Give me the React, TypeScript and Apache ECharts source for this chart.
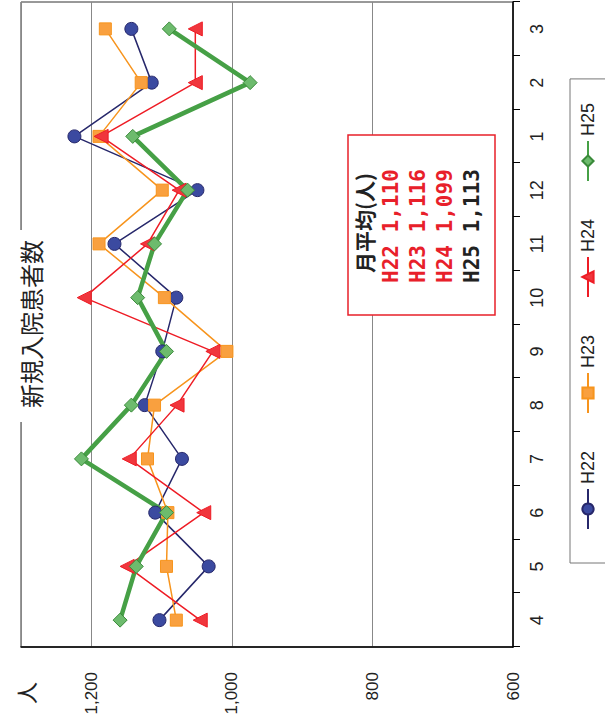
import React, { useEffect, useRef } from "react";
import * as echarts from "echarts";

const months = ["4", "5", "6", "7", "8", "9", "10", "11", "12", "1", "2", "3"];
const seriesNames = ["H22", "H23", "H24", "H25"];
const h22 = [1103, 1033, 1109, 1071, 1124, 1099, 1079, 1167, 1049, 1224, 1114, 1143];
const h23 = [1079, 1093, 1091, 1120, 1110, 1007, 1096, 1189, 1099, 1189, 1129, 1180];
const h24 = [1045, 1149, 1040, 1146, 1078, 1027, 1210, 1120, 1075, 1186, 1052, 1052];
const h25 = [1159, 1136, 1093, 1214, 1143, 1093, 1134, 1110, 1063, 1141, 974, 1089];
const averageLabels = ["H22 1,110", "H23 1,116", "H24 1,099", "H25 1,113"];
const averageTitle = "月平均(人)";
const chartTitle = "新規入院患者数";
const unitLabel = "人";

const W = 720;
const H = 605;

export default function App() {
  const ref = useRef<HTMLDivElement>(null);
  useEffect(() => {
    const chart = echarts.init(ref.current!, null, { renderer: "svg", width: W, height: H });
    const sans = "Liberation Sans, Arial, sans-serif";
    const cjk = "Noto Sans CJK JP, sans-serif";
    const mk = (name: string, data: number[], color: string, lineColor: string, symbol: string, size: number, width: number, border: string) => ({
      name,
      type: "line",
      data,
      symbol,
      symbolSize: size,
      showAllSymbol: true,
      lineStyle: { color: lineColor, width },
      itemStyle: { color, borderColor: border, borderWidth: 1 },
      z: 3,
    });
    const avgColors = ["#e8202a", "#e8202a", "#e8202a", "#222"];
    chart.setOption({
      animation: false,
      backgroundColor: "#fff",
      grid: { left: 73, right: 2, top: 21, bottom: 92, show: true, borderColor: "#333", borderWidth: 1 },
      legend: {
        data: seriesNames,
        left: 157,
        top: 570,
        padding: [9, 24, 12, 33],
        itemGap: 37,
        itemWidth: 40,
        itemHeight: 14,
        borderColor: "#777",
        borderWidth: 1,
        textStyle: { fontSize: 18, color: "#222", fontFamily: sans },
      },
      xAxis: {
        type: "category",
        data: months,
        boundaryGap: true,
        axisLine: { lineStyle: { color: "#000", width: 1.5 } },
        axisTick: { show: true, length: 7, lineStyle: { color: "#000" } },
        axisLabel: { margin: 15, fontSize: 18, color: "#222", fontFamily: sans },
        splitLine: { show: false },
      },
      yAxis: {
        type: "value",
        min: 600,
        max: 1300,
        interval: 200,
        axisLine: { show: true, lineStyle: { color: "#000", width: 1.5 } },
        axisTick: { show: false },
        splitLine: { show: true, lineStyle: { color: "#888", width: 1 } },
        axisLabel: {
          margin: 25,
          fontSize: 17,
          color: "#222",
          fontFamily: sans,
          showMaxLabel: false,
          formatter: (v: number) => v.toLocaleString("en-US"),
        },
      },
      graphic: [
        { type: "rect", z: 100, shape: { x: 298, y: 12, width: 192, height: 16 }, style: { fill: "#fff" } },
        {
          type: "text", z: 101, x: 396, y: 30,
          style: { text: chartTitle, fontSize: 24, fontFamily: cjk, fill: "#222", textAlign: "center", textVerticalAlign: "middle" },
        },
        {
          type: "text", z: 101, x: 27, y: 25,
          style: { text: unitLabel, fontSize: 22, fontFamily: cjk, fill: "#222", textAlign: "center", textVerticalAlign: "middle" },
        },
        { type: "rect", z: 100, shape: { x: 405, y: 348, width: 180, height: 147 }, style: { fill: "#fff", stroke: "#e8202a", lineWidth: 1.5 } },
        {
          type: "text", z: 101, x: 447, y: 364,
          style: { text: averageTitle, fontSize: 21, fontWeight: "bold", fontFamily: cjk, fill: "#222", textAlign: "left", textVerticalAlign: "middle" },
        },
        ...averageLabels.map((t, i) => ({
          type: "text", z: 101, x: 437, y: 391 + i * 27,
          style: { text: t, fontSize: 21, fontWeight: "bold", fontFamily: "DejaVu Sans Mono, monospace", fill: avgColors[i], textAlign: "left", textVerticalAlign: "middle" },
        })),
      ],
      series: [
        mk("H22", h22, "#3b4aa0", "#27286b", "circle", 13, 1.5, "#27286b"),
        mk("H23", h23, "#f9a03f", "#f7941d", "rect", 12, 1.5, "#f7941d"),
        mk("H24", h24, "#f0363d", "#ee1c25", "triangle", 14, 1.5, "#ee1c25"),
        mk("H25", h25, "#6dbb6d", "#46a046", "diamond", 14, 4.5, "#3a8a3a"),
      ],
    });
    return () => chart.dispose();
  }, []);
  return (
    <div style={{ position: "fixed", left: 0, top: 0, width: 605, height: 720, overflow: "hidden", background: "#fff" }}>
      <div
        ref={ref}
        style={{
          position: "absolute",
          left: 0,
          top: 0,
          width: W,
          height: H,
          transformOrigin: "0 0",
          transform: "translate(0px, 720px) rotate(-90deg)",
        }}
      />
    </div>
  );
}
